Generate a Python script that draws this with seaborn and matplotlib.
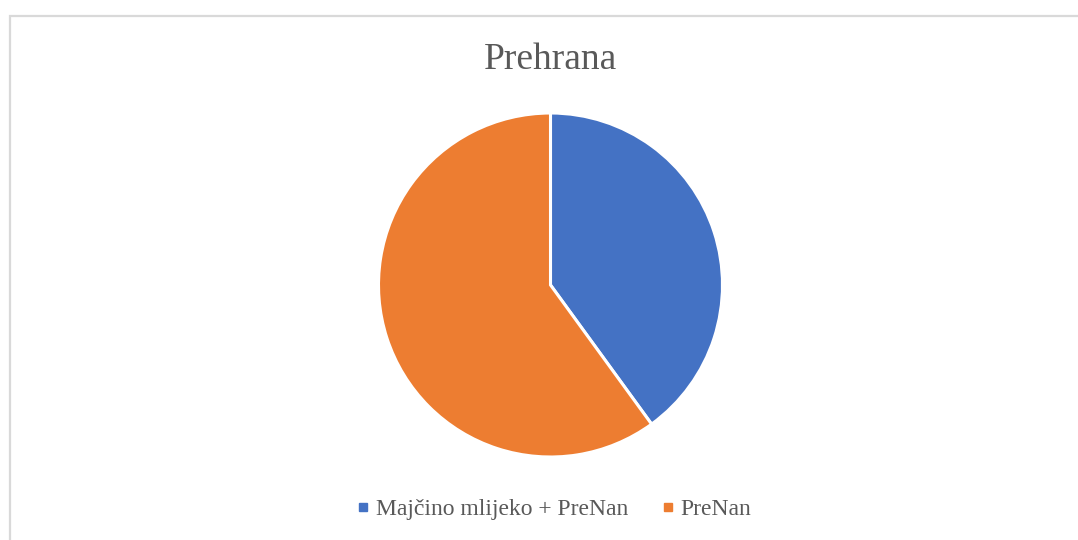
import matplotlib
matplotlib.use("Agg")
import matplotlib.pyplot as plt
import seaborn as sns
from matplotlib.lines import Line2D
from matplotlib.patches import Rectangle

# Data
labels = ["Majčino mlijeko + PreNan", "PreNan"]
values = [40, 60]
colors = ["#4472C4", "#ED7D31"]
title = "Prehrana"

sns.set_theme(style="white")
plt.rcParams['font.family'] = ['Liberation Serif', 'DejaVu Serif']

W, H = 1078, 540
fig = plt.figure(figsize=(W / 100, H / 100), dpi=100)
fig.patch.set_facecolor("white")

# chart border (light grey, left/top visible)
fig.patches.append(Rectangle((10 / W, -0.2), 1.2, 1.2 - 16 / H,
                             transform=fig.transFigure, fill=False,
                             edgecolor="#d9d9d9", linewidth=1.6, zorder=0))

cx, cy, r = 550.5, 285, 172
ax = fig.add_axes([(cx - r) / W, (H - cy - r) / H, 2 * r / W, 2 * r / H])
ax.pie(values, colors=colors, startangle=90, counterclock=False,
       wedgeprops=dict(edgecolor="white", linewidth=2.2))
ax.set_xlim(-1, 1)
ax.set_ylim(-1, 1)
ax.set_aspect("equal")
ax.axis("off")

fig.text(550 / W, 1 - 69 / H, title, ha="center", va="baseline",
         fontsize=27, color="#595959")

handles = [Line2D([], [], marker="s", linestyle="", markersize=5.2,
                  markerfacecolor=c, markeredgecolor=c) for c in colors]
fig.legend(handles, labels, loc="center", bbox_to_anchor=(555 / W, 1 - 509 / H),
           ncol=2, frameon=False, fontsize=17, labelcolor="#595959",
           handlelength=0.4, handletextpad=0.35, columnspacing=1.45,
           borderpad=0, borderaxespad=0)

fig.savefig("out.png", dpi=100, facecolor="white")
